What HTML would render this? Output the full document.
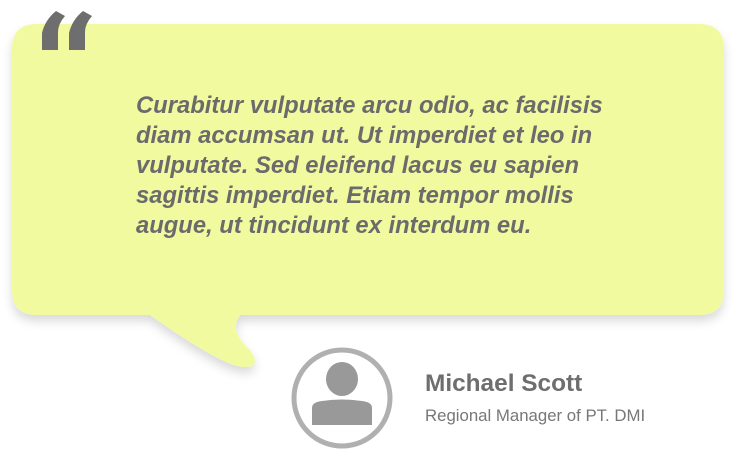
<!DOCTYPE html>
<html><head><meta charset="utf-8"><style>
body{margin:0;width:744px;height:461px;background:#fff;position:relative;overflow:hidden;font-family:"Liberation Sans",sans-serif}
.t{position:absolute;left:136px;top:91px;width:580px;white-space:nowrap;font-style:italic;font-weight:bold;font-size:23.8px;line-height:30px;color:#6b6b6b}
.n{position:absolute;left:425px;top:370px;font-size:24.4px;font-weight:bold;color:#6e6e6e}
.s{position:absolute;left:425px;top:406px;font-size:16.8px;color:#777}
</style></head><body>
<svg width="744" height="461" style="position:absolute;left:0;top:0">
<defs><filter id="sh" x="-10%" y="-10%" width="120%" height="130%"><feDropShadow dx="0" dy="6" stdDeviation="5" flood-color="#000" flood-opacity="0.15"/></filter></defs>
<path filter="url(#sh)" d="M37 24 H699 Q724 24 724 49 V290 Q724 315 699 315 H240 Q228 330 250 350 Q262 367 245 367 Q225 368 150 315 H37 Q12 315 12 290 V49 Q12 24 37 24 Z" fill="#f2fa9f"/>
<g fill="#6e6e6e">
<path d="M42 50 V33 Q45 20 56 11 L65 16 Q58 24 58 32 V50 Z"/>
<path d="M69 50 V33 Q72 20 83 11 L92 16 Q85 24 85 32 V50 Z"/>
</g>
<g>
<circle cx="342" cy="398" r="48" fill="none" stroke="#b0b0b0" stroke-width="5"/>
<ellipse cx="342" cy="379" rx="16" ry="17" fill="#999"/>
<path d="M312 425 V408 Q312 402 322 401 Q342 398 362 401 Q372 402 372 408 V425 Z" fill="#999"/>
</g>
</svg>
<div class="t">Curabitur vulputate arcu odio, ac facilisis<br>diam accumsan ut. Ut imperdiet et leo in<br>vulputate. Sed eleifend lacus eu sapien<br>sagittis imperdiet. Etiam tempor mollis<br>augue, ut tincidunt ex interdum eu.</div>
<div class="n">Michael Scott</div>
<div class="s">Regional Manager of PT. DMI</div>
</body></html>
